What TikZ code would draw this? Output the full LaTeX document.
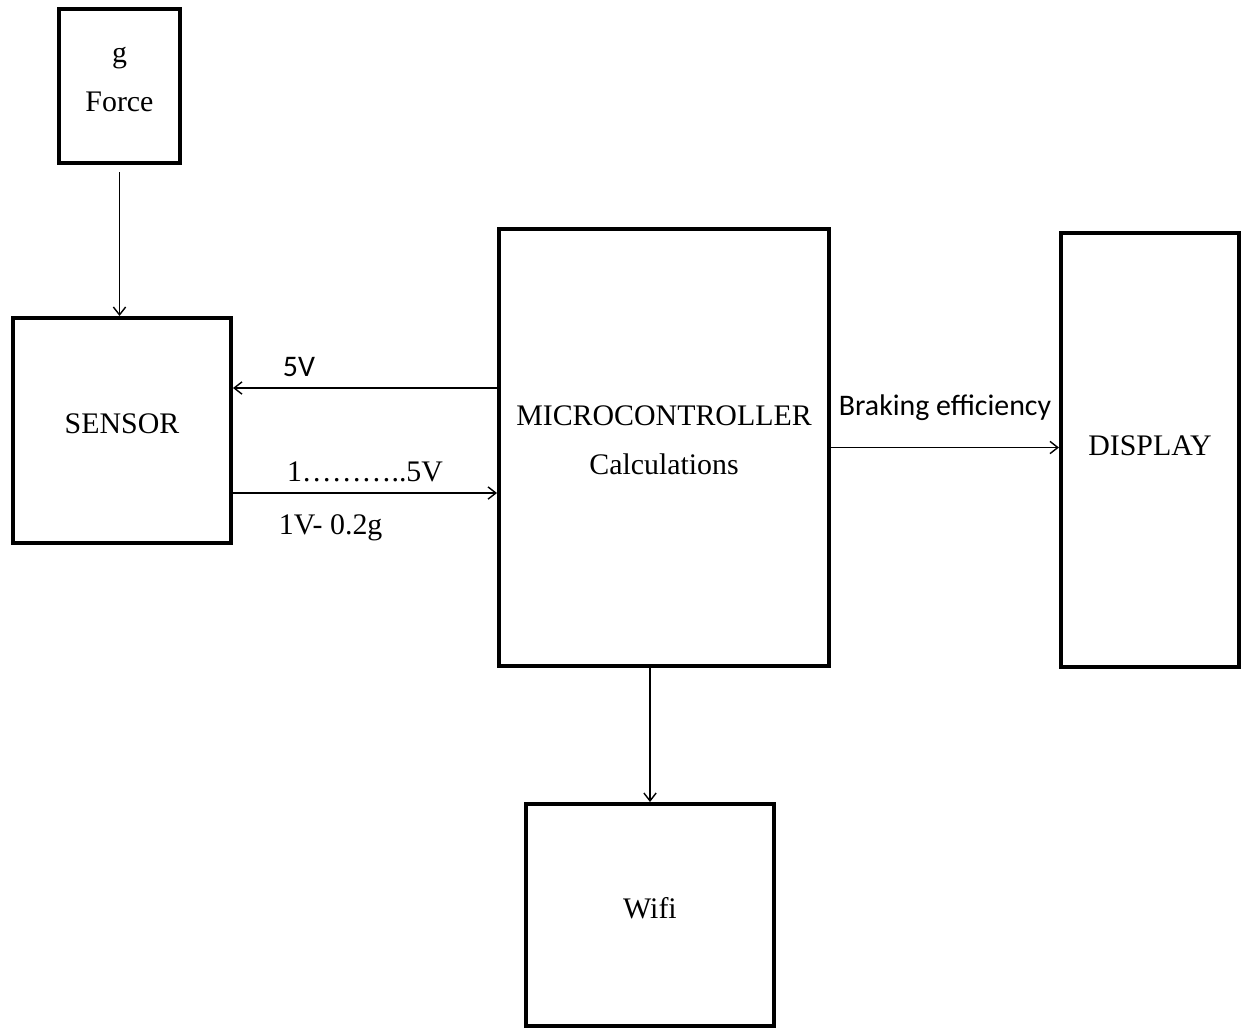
\documentclass[tikz,border=0pt]{standalone}
\usepackage{fontspec}
\setmainfont{Liberation Serif}
\newfontfamily\calibri{Carlito}
\usetikzlibrary{arrows.meta}
\tikzset{
	block/.style = {
		shape=rectangle,
		draw,
		line width=2.3pt,
		align=center,
		text depth=8pt,
		font=\fontsize{17}{28}\selectfont
	},
	wire/.style = {-{Straight Barb[length=4.5pt, width=7pt]}, line width=0.8pt},
	tag/.style = {inner sep=2pt, font=\fontsize{17}{20}\selectfont}
}

\begin{document}
\begin{tikzpicture}[x=0.02cm, y=-0.02cm]
	\useasboundingbox (0,0) rectangle (1243,1029);
	% blocks
	\node[block, minimum width=2.42cm, minimum height=3.08cm] (force) at (119.5,86) {g\\Force};
	\node[block, minimum width=4.36cm, minimum height=4.5cm] (sensor) at (122,430.5) {SENSOR};
	\node[block, minimum width=6.6cm, minimum height=8.74cm] (micro) at (664,447.5) {MICROCONTROLLER\\Calculations};
	\node[block, minimum width=3.56cm, minimum height=8.68cm, text depth=5pt] (display) at (1150,450) {DISPLAY};
	\node[block, minimum width=4.96cm, minimum height=4.44cm] (wifi) at (650,915) {Wifi};
	% connections
	\draw[wire, shorten <=4pt] (force.south) -- (force.south |- sensor.north);
	\draw[wire] (micro.west |- 0,388) -- node[tag, pos=0.75, above=4pt] {\calibri 5V} (sensor.east |- 0,388);
	\draw[wire] (sensor.east |- 0,493) --
		node[tag, pos=0.5, above=4pt] {1………..5V}
		node[tag, pos=0.37, below=10pt] {1V- 0.2g} (micro.west |- 0,493);
	\draw[wire] (micro.east) -- node[tag, pos=0.5, above=13pt] {\calibri Braking efficiency} (display.west |- micro.east);
	\draw[wire] (wifi.north |- micro.south) -- (wifi.north);
\end{tikzpicture}
\end{document}
